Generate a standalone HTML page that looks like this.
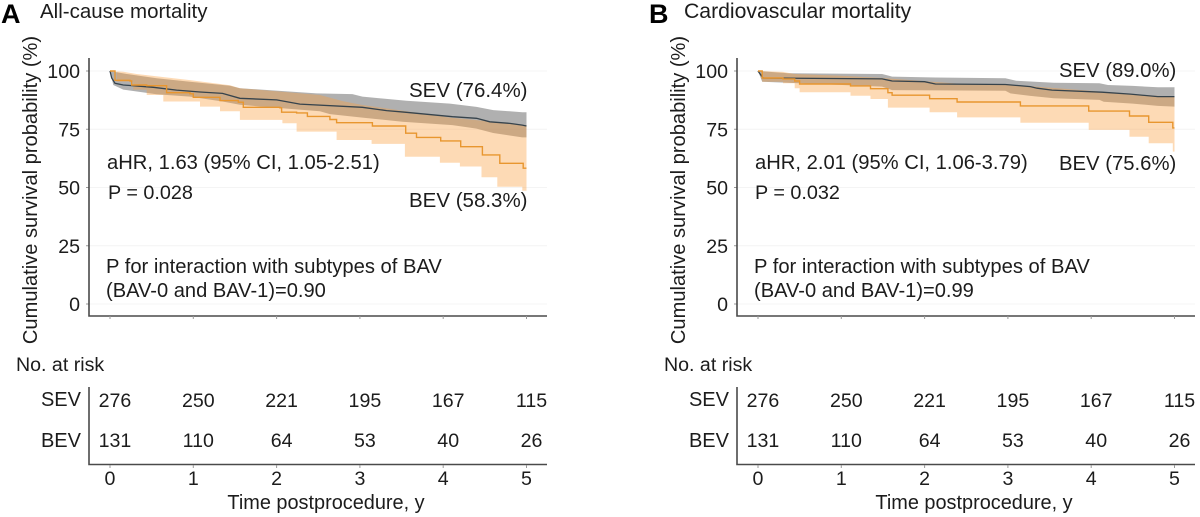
<!DOCTYPE html>
<html lang="en">
<head>
<meta charset="utf-8">
<title>Cumulative survival by valve type</title>
<style>
html,body{margin:0;padding:0;background:#fff;}
svg{display:block;font-family:"Liberation Sans",Arial,sans-serif;fill:#1c1c1c;}
text{font-size:19.6px;}
</style>
</head>
<body>
<svg id="chart" width="1200" height="517" viewBox="0 0 1200 517" xmlns="http://www.w3.org/2000/svg">
<rect width="1200" height="517" fill="#fff"/>
<g id="panelA"></g>
<g id="panelB"></g>

<text x="1" y="23" style="font-size:27px;font-weight:bold" fill="#000">A</text>
<text x="40" y="18" style="font-size:20.5px">All-cause mortality</text>
<text transform="translate(37,190) rotate(-90)" text-anchor="middle" style="font-size:20.1px">Cumulative survival probability (%)</text>
<text x="409" y="97" style="font-size:20.5px">SEV (76.4%)</text>
<text x="409" y="207" style="font-size:20.5px">BEV (58.3%)</text>
<text x="107" y="169" style="font-size:20.2px">aHR, 1.63 (95% CI, 1.05-2.51)</text>
<text x="108" y="199" style="font-size:19.8px">P = 0.028</text>
<text x="106" y="273" style="font-size:20.2px">P for interaction with subtypes of BAV</text>
<text x="106" y="297" style="font-size:20.1px">(BAV-0 and BAV-1)=0.90</text>
<text x="16" y="371">No. at risk</text>
<text x="326" y="509" text-anchor="middle" style="font-size:19.9px">Time postprocedure, y</text>

<text x="649" y="23" style="font-size:27px;font-weight:bold" fill="#000">B</text>
<text x="684" y="18" style="font-size:21.2px">Cardiovascular mortality</text>
<text transform="translate(685,190) rotate(-90)" text-anchor="middle" style="font-size:20.1px">Cumulative survival probability (%)</text>
<text x="1059" y="77" style="font-size:20.3px">SEV (89.0%)</text>
<text x="1059" y="170" style="font-size:20.3px">BEV (75.6%)</text>
<text x="755" y="169" style="font-size:20.2px">aHR, 2.01 (95% CI, 1.06-3.79)</text>
<text x="755" y="199" style="font-size:19.8px">P = 0.032</text>
<text x="754" y="273" style="font-size:20.2px">P for interaction with subtypes of BAV</text>
<text x="754" y="297" style="font-size:20.1px">(BAV-0 and BAV-1)=0.99</text>
<text x="664" y="371">No. at risk</text>
<text x="974" y="509" text-anchor="middle" style="font-size:19.9px">Time postprocedure, y</text>
</svg>
<script>
// Shared axis labels and at-risk counts
const xTicks = [0, 1, 2, 3, 4, 5];
const yTicks = [0, 25, 50, 75, 100];
const riskSev = [276, 250, 221, 195, 167, 115];
const riskBev = [131, 110, 64, 53, 40, 26];

// Panel A: all-cause mortality
const aSevTime = [0, .02, .06, .16, .52, .8, 1.08, 1.35, 1.56, 2, 2.28, 3.03, 3.32, 3.54, 4.11, 4.4, 4.56, 4.8, 4.95, 5];
const aSevSurv = [100, 97, 94.7, 94, 93, 91.8, 91, 90.4, 88.3, 87.6, 85.8, 84.4, 83, 82.3, 80.4, 79.7, 78.2, 77.5, 76.8, 76.4];
const aSevUpTime = [0, .2, .56, .96, 1.44, 1.56, 2.48, 2.91, 3.03, 3.56, 4.08, 4.4, 4.6, 4.95, 5];
const aSevUpper = [100, 98.7, 96.9, 95.4, 93.7, 92.6, 90.4, 90.1, 89, 87.2, 86, 84.6, 83.2, 82.3, 82.3];
const aSevLoTime = [0, .04, .16, .56, .96, 1.35, 1.56, 2.52, 2.64, 3.03, 3.51, 4.11, 4.4, 4.6, 4.95, 5];
const aSevLower = [100, 94, 92, 90, 89, 86.9, 85.5, 82.7, 81.5, 80, 78.2, 76.8, 75.3, 73.4, 71.5, 71.5];
const aBevTime = [0, .06, .24, .26, .44, .68, .96, 1, 1.32, 1.54, 1.6, 2.04, 2.06, 2.24, 2.37, 2.64, 2.72, 3.15, 3.55, 3.68, 3.97, 4.21, 4.47, 4.68, 4.96, 5];
const aBevSurv = [100, 96, 95.7, 94, 93.7, 90.7, 90.2, 88.7, 87.3, 86.6, 84.4, 84.2, 82.3, 82, 80.5, 79.2, 77.8, 76.4, 73.3, 71.5, 70, 67.5, 64, 60.4, 58.3, 58.3];
const aBevUpTime = [0, .16, .32, .96, 1.44, 1.56, 2.52, 2.8, 3.03, 3.6, 4.08, 4.6, 5];
const aBevUpper = [100, 99.7, 98.7, 96.1, 93.9, 92.6, 89.7, 87, 85.4, 82.5, 80, 78.2, 76.8];
const aBevLoTime = [0, .08, .28, .44, .64, 1.08, 1.32, 1.56, 2.07, 2.24, 2.72, 3.14, 3.54, 3.96, 4.2, 4.46, 4.65, 4.95, 5];
const aBevLower = [100, 95.4, 92, 89.7, 86.9, 84.7, 82.7, 79, 77.6, 74, 70.4, 68.7, 63.2, 60.6, 59, 54.4, 50.3, 48.6, 48.6];

// Panel B: cardiovascular mortality
const bSevTime = [0, .06, 1.49, 1.61, 2, 2.13, 2.97, 3.27, 3.35, 3.53, 4.13, 4.47, 4.8, 5];
const bSevSurv = [100, 97, 96.6, 95.7, 95.4, 94.4, 94.2, 93.3, 92.6, 91.8, 90.9, 90.1, 89, 89];
const bSevUpTime = [0, .36, 1.49, 1.61, 2.13, 2.97, 3.1, 3.55, 4.1, 4.2, 4.5, 4.8, 5];
const bSevUpper = [100, 99, 98.7, 97.6, 97.2, 96.9, 95.8, 95, 94.7, 94, 93.6, 93, 93];
const bSevLoTime = [0, .05, .5, 1.49, 1.61, 2.97, 3.03, 3.27, 3.55, 4.1, 4.15, 4.5, 4.8, 5];
const bSevLower = [100, 95.4, 94.7, 93.3, 91.8, 91.5, 90.4, 89.3, 88.3, 87.6, 86.8, 86, 85, 84.7];
const bBevTime = [0, .05, .3, .44, .5, 1.11, 1.35, 1.56, 1.61, 2.06, 2.39, 3.15, 3.97, 4.46, 4.69, 4.98, 5];
const bBevSurv = [100, 97, 96.6, 95.7, 94.4, 93.6, 92.4, 90.7, 89.6, 88.1, 86.7, 85, 82.8, 80.7, 78, 75.6, 75.6];
const bBevUpTime = [0, .3, .44, 1, 1.5, 2.4, 3.15, 3.97, 4.46, 4.98, 5];
const bBevUpper = [100, 99.6, 98.7, 98, 97, 94.6, 93.8, 91.6, 90, 89, 89];
const bBevLoTime = [0, .05, .3, .44, .5, 1.11, 1.35, 1.56, 2.06, 2.39, 3.15, 3.97, 4.46, 4.69, 4.98, 5];
const bBevLower = [100, 95.4, 94.7, 92.6, 90.9, 89.4, 88, 84.3, 82.3, 80.1, 77.8, 74.7, 71.8, 69, 65.4, 65.4];

const NS = 'http://www.w3.org/2000/svg';
const yScale = s => 304 - s * 2.33;

function stepPoints(times, vals, xScale) {
  const pts = [];
  for (let i = 0; i < times.length; i++) {
    if (i > 0) pts.push([xScale(times[i]), yScale(vals[i - 1])]);
    pts.push([xScale(times[i]), yScale(vals[i])]);
  }
  return pts;
}
function linePoints(times, vals, xScale) {
  return times.map((t, i) => [xScale(t), yScale(vals[i])]);
}
function toD(pts) {
  return pts.map((p, i) => (i ? 'L' : 'M') + p[0].toFixed(1) + ' ' + p[1].toFixed(1)).join('');
}
function addPath(parent, d, fill, stroke, width, opacity) {
  const p = document.createElementNS(NS, 'path');
  p.setAttribute('d', d);
  p.setAttribute('fill', fill);
  p.setAttribute('stroke', stroke);
  p.setAttribute('stroke-width', width);
  if (opacity < 1) p.setAttribute('fill-opacity', opacity);
  parent.appendChild(p);
  return p;
}
function addText(parent, x, y, str, anchor, size) {
  const t = document.createElementNS(NS, 'text');
  t.setAttribute('x', x);
  t.setAttribute('y', y);
  t.setAttribute('text-anchor', anchor);
  if (size) t.style.fontSize = size + 'px';
  t.textContent = str;
  parent.appendChild(t);
  return t;
}

function drawPanel(id, dx, s) {
  const g = document.getElementById(id);
  const xScale = t => 110 + dx + t * 83.3;
  const axisX = 89 + dx;
  const axisEnd = 547 + dx;

  yTicks.forEach(v => {
    const y = yScale(v);
    const grid = addPath(g, `M${axisX} ${y}H${axisEnd}`, 'none', '#f4f4f4', 1, 1);
    
    
    const tick = addPath(g, `M${axisX - 3} ${y}H${axisX}`, 'none', '#999', 1, 1);
    
    
    const lab = addText(g, axisX - 9, y + 7, String(v), 'end');
    
    
  });

  const sevPts = linePoints(s.sevUpT, s.sevUp, xScale).concat(linePoints(s.sevLoT, s.sevLo, xScale).reverse());
  const sevBand = addPath(g, toD(sevPts) + 'Z', '#626262', 'none', 0, 0.5);
  
  
  const bevPts = linePoints(s.bevUpT, s.bevUp, xScale).concat(stepPoints(s.bevLoT, s.bevLo, xScale).reverse());
  const bevBand = addPath(g, toD(bevPts) + 'Z', '#fb9f3c', 'none', 0, 0.38);
  
  

  const sevLine = addPath(g, toD(linePoints(s.sevT, s.sevS, xScale)), 'none', '#36434c', 1.3, 1);
  
  
  const bevLine = addPath(g, toD(stepPoints(s.bevT, s.bevS, xScale)), 'none', '#e8962f', 1.4, 1);
  
  

  const plotAxis = addPath(g, `M${axisX} 58V316H${axisEnd}`, 'none', '#4a4a4a', 1.6, 1);
  
  
  const riskAxis = addPath(g, `M${axisX} 387V464.5H${axisEnd}`, 'none', '#4a4a4a', 1.6, 1);
  
  

  const sevRow = addText(g, axisX - 8, 406, 'SEV', 'end', 20);
  
  
  const bevRow = addText(g, axisX - 8, 447, 'BEV', 'end', 20);
  
  

  xTicks.forEach((t, i) => {
    const x = xScale(t);
    const tk = addPath(g, `M${x} 316v3M${x} 465v3`, 'none', '#999', 1, 1);
    
    
    const lab = addText(g, x, 485, String(t), 'middle');
    
    
    const a = addText(g, x + 5, 407, String(riskSev[i]), 'middle');
    
    
    const b = addText(g, x + 5, 447, String(riskBev[i]), 'middle');
    
    
  });
}

drawPanel('panelA', 0, {
  sevT: aSevTime, sevS: aSevSurv, sevUpT: aSevUpTime, sevUp: aSevUpper, sevLoT: aSevLoTime, sevLo: aSevLower,
  bevT: aBevTime, bevS: aBevSurv, bevUpT: aBevUpTime, bevUp: aBevUpper, bevLoT: aBevLoTime, bevLo: aBevLower
});
drawPanel('panelB', 648, {
  sevT: bSevTime, sevS: bSevSurv, sevUpT: bSevUpTime, sevUp: bSevUpper, sevLoT: bSevLoTime, sevLo: bSevLower,
  bevT: bBevTime, bevS: bBevSurv, bevUpT: bBevUpTime, bevUp: bBevUpper, bevLoT: bBevLoTime, bevLo: bBevLower
});
</script>
</body>
</html>
